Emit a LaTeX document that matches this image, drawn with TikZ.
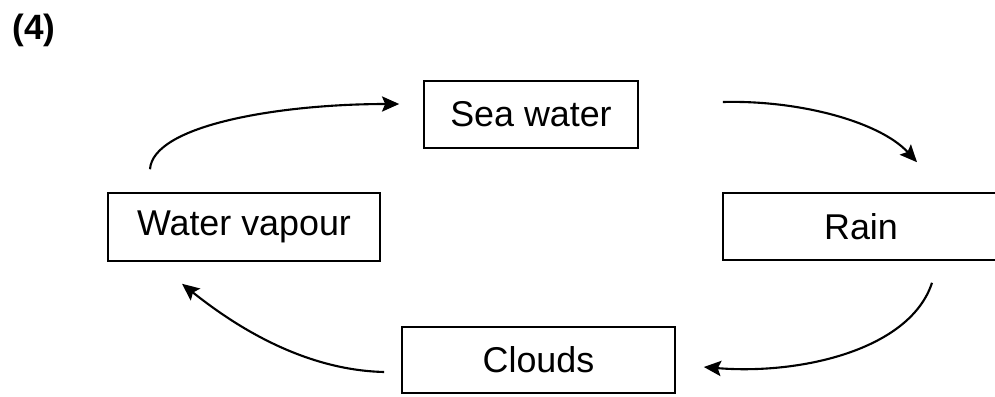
\documentclass[tikz,border=0pt]{standalone}
\usepackage{fontspec}
\setmainfont{Liberation Sans}
\usepackage{tikz}
\usetikzlibrary{arrows.meta}
\tikzset{
    stage/.style={
        draw,
        rectangle,
        line width=1.1pt,
        inner sep=0pt,
        font=\fontsize{25.5}{30}\selectfont
    },
    flow/.style={
        line width=1.5pt,
        -{Stealth[length=4.3mm, width=3.8mm, inset=0.8mm]}
    }
}

\begin{document}
\begin{tikzpicture}[x=0.025cm, y=-0.025cm]
  \clip (0,0) rectangle (995,396);

  % Question number
  \node[font=\bfseries\fontsize{25}{30}\selectfont] (num) at (34,30) {(4)};

  % Stages of the cycle
  \node[stage, minimum width=5.35cm, minimum height=1.675cm] (sea) at (531,114.5) {Sea water};
  \node[stage, minimum width=6.9cm, minimum height=1.675cm] (rain) at (861,226.5) {Rain};
  \node[stage, minimum width=6.825cm, minimum height=1.65cm] (clouds) at (538.5,360) {Clouds};
  \node[stage, minimum width=6.8cm, minimum height=1.7cm] (vapour) at (244,227) {Water vapour};

  % Arrows round the cycle
  \draw[flow] ([shift={(-94,-23)}]vapour.north) .. controls (153,125) and (280,104) .. ([shift={(-24,-10.5)}]sea.west);
  \draw[flow] ([shift={(84,-12.5)}]sea.east) .. controls (800,100) and (880,122) .. ([shift={(56,-30)}]rain.north);
  \draw[flow] ([shift={(71,22)}]rain.south) .. controls (910,350) and (800,375) .. ([shift={(28,7)}]clouds.east);
  \draw[flow] ([shift={(-17,12)}]clouds.west) .. controls (300,370) and (230,322) .. ([shift={(-62,22)}]vapour.south);
\end{tikzpicture}
\end{document}
